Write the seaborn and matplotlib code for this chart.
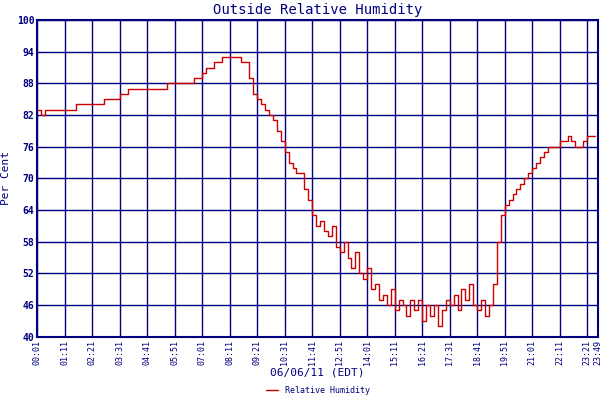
import numpy as np
import pandas as pd
import matplotlib
matplotlib.use("Agg")
import matplotlib.pyplot as plt
import seaborn as sns

# minutes after midnight, one reading every 10 minutes
minutes = np.arange(1, 1430, 10)
humidity = [
    83, 82, 83, 83, 83, 83, 83, 83, 83, 83, 84, 84,
    84, 84, 84, 84, 84, 85, 85, 85, 85, 86, 86, 87,
    87, 87, 87, 87, 87, 87, 87, 87, 87, 88, 88, 88,
    88, 88, 88, 88, 89, 89, 90, 91, 91, 92, 92, 93,
    93, 93, 93, 93, 92, 92, 89, 86, 85, 84, 83, 82,
    81, 79, 77, 75, 73, 72, 71, 71, 68, 66, 63, 61,
    62, 60, 59, 61, 57, 56, 58, 55, 53, 56, 52, 51,
    53, 49, 50, 47, 48, 46, 49, 45, 47, 46, 44, 47,
    45, 47, 43, 46, 44, 46, 42, 45, 47, 46, 48, 45,
    49, 47, 50, 46, 45, 47, 44, 46, 50, 58, 63, 65,
    66, 67, 68, 69, 70, 71, 72, 73, 74, 75, 76, 76,
    76, 77, 77, 78, 77, 76, 76, 77, 78, 78, 78,
]
tick_minutes = [1, 71, 141, 211, 281, 351, 421, 491, 561, 631, 701, 771,
                841, 911, 981, 1051, 1121, 1191, 1261, 1331, 1401, 1429]
tick_labels = ["00:01", "01:11", "02:21", "03:31", "04:41", "05:51", "07:01",
               "08:11", "09:21", "10:31", "11:41", "12:51", "14:01", "15:11",
               "16:21", "17:31", "18:41", "19:51", "21:01", "22:11", "23:21", "23:49"]
y_ticks = [40, 46, 52, 58, 64, 70, 76, 82, 88, 94, 100]

df = pd.DataFrame({"t": minutes, "rh": humidity})

sns.set_style("white")
plt.rcParams["font.family"] = ["DejaVu Sans Mono"]
navy = "#00007f"

fig = plt.figure(figsize=(6, 4), dpi=100)
ax = fig.add_axes([0.062, 0.158, 0.935, 0.792])
sns.lineplot(data=df, x="t", y="rh", ax=ax, color="#cc0000", lw=1,
             drawstyle="steps-post", label="Relative Humidity")

ax.set_xlim(1, 1429)
ax.set_ylim(40, 100)
ax.set_xticks(tick_minutes)
ax.set_xticklabels(tick_labels, rotation=90, fontsize=6, color=navy)
ax.set_yticks(y_ticks)
ax.set_yticklabels([str(v) for v in y_ticks], fontsize=7, color=navy, fontweight="bold")
ax.tick_params(length=0, pad=2)
ax.grid(True, color=navy, lw=1)
for s in ax.spines.values():
    s.set_color(navy)
    s.set_linewidth(1.5)

ax.set_title("Outside Relative Humidity", color=navy, fontsize=10, pad=4)
ax.set_ylabel("Per Cent", color=navy, fontsize=8, labelpad=4)
ax.set_xlabel("06/06/11 (EDT)", color=navy, fontsize=8, labelpad=2)
ax.legend(loc="lower center", bbox_to_anchor=(0.5, -0.2), frameon=False,
          fontsize=6, labelcolor=navy, handlelength=1.5, borderpad=0.1)

fig.savefig("out.png", dpi=100, facecolor="white")
